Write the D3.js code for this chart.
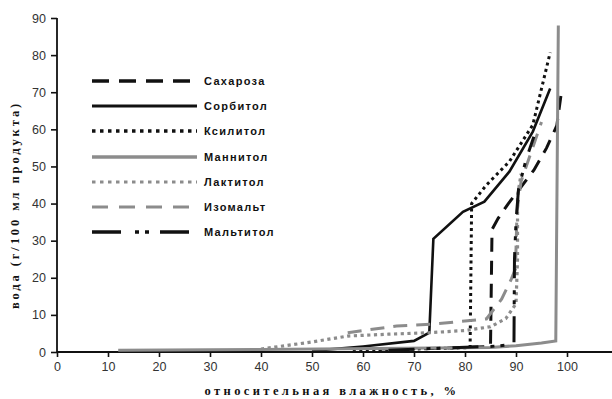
<!DOCTYPE html>
<html><head><meta charset="utf-8">
<script src="https://cdn.jsdelivr.net/npm/d3@7"></script>
<style>body{margin:0;background:#fff}svg{display:block}</style>
</head><body>
<svg id="c" width="612" height="399"></svg>
<script>
// ---- data ----
const seriesNames = ["Сахароза","Сорбитол","Ксилитол","Маннитол","Лактитол","Изомальт","Мальтитол"];
const sucrose  = [[63,0.8],[75,1.0],[85,1.5],[85.3,33],[86.5,36],[88.5,40],[93.5,49],[96,55],[98,61],[99,71]];
const sorbitol = [[50,0.3],[60,1.5],[70,3],[73,5.2],[73.8,30.5],[79.6,37.8],[83.8,40.5],[88.7,48.6],[93.3,59.4],[96.7,71]];
const xylitol  = [[58,0.3],[70,0.8],[81,1.2],[81.3,40],[84.2,45],[88.7,51.3],[93.3,61.2],[96.7,80.7]];
const mannitol = [[12,0.5],[40,0.7],[85,1.2],[90,1.7],[95,2.4],[97.8,3],[98.3,88]];
const lactitol = [[40,0.8],[50,2.7],[57,4.3],[65,4.8],[73,5.2],[80,5.8],[85,6.8],[88,9],[90,13],[90.3,25],[90.3,42],[91,48]];
const isomalt  = [[57,5.2],[66.6,7],[73.5,7.5],[84.2,8.9],[87.2,14.3],[89.1,19.7],[89.9,22.4],[90.2,38],[91,46],[93,54],[95,62]];
const maltitol = [[65,0.5],[75,1],[85,1.5],[89.6,2],[89.7,25],[90,35],[90.5,44],[92,52],[93.5,58]];
const xTicks = [0,10,20,30,40,50,60,70,80,90,100];
const yTicks = [0,10,20,30,40,50,60,70,80,90];
const xTitle = "относительная влажность, %";
const yTitle = "вода (г/100 мл продукта)";

// ---- styles ----
const styles = [
  {data: sucrose,  color:"#111", w:3,   dash:"14,9",  ldash:"17,10", lw:3.5},
  {data: sorbitol, color:"#111", w:2.6, dash:null,   ldash:null,    lw:3.2},
  {data: xylitol,  color:"#111", w:3,   dash:"3,3.5", ldash:"3.5,4.5", lw:3.5},
  {data: mannitol, color:"#8c8c8c", w:3, dash:null,  ldash:null,    lw:3.5},
  {data: lactitol, color:"#8c8c8c", w:3.2, dash:"3.2,3.5", ldash:"3.5,4.5", lw:3.2},
  {data: isomalt,  color:"#8c8c8c", w:3, dash:"14,9", ldash:"16,11", lw:3},
  {data: maltitol, color:"#111", w:3,   dash:"26,12,4,6,4,12", ldash:"29,14,4,6,4,11", lw:3.5}
];

const svg = d3.select("#c");
const x = d3.scaleLinear().domain([0,100]).range([57,567]);
const y = d3.scaleLinear().domain([0,90]).range([352,18]);

// axes
const gx = svg.append("g").attr("transform","translate(0,352)")
  .call(d3.axisBottom(x).tickValues(xTicks).tickSize(5).tickPadding(5));
const gy = svg.append("g").attr("transform","translate(57,0)")
  .call(d3.axisLeft(y).tickValues(yTicks).tickSize(6).tickPadding(5));
[gx,gy].forEach(g=>{
  g.select(".domain").remove();
  g.selectAll("line").attr("stroke","#111").attr("stroke-width",1.6);
  g.selectAll("text").attr("font-family","Liberation Sans, Arial, sans-serif")
    .attr("font-size",12.5).attr("fill","#333");
});
svg.append("line").attr("x1",x(0)).attr("x2",612).attr("y1",y(0)).attr("y2",y(0))
  .attr("stroke","#111").attr("stroke-width",1.8);
svg.append("line").attr("x1",x(0)).attr("x2",x(0)).attr("y1",y(0)).attr("y2",y(90))
  .attr("stroke","#111").attr("stroke-width",1.8);

// lines
const line = d3.line().x(d=>x(d[0])).y(d=>y(d[1]));
styles.forEach(s=>{
  svg.append("path").attr("d",line(s.data)).attr("fill","none")
    .attr("stroke",s.color).attr("stroke-width",s.w)
    .attr("stroke-dasharray",s.dash).attr("stroke-linejoin","miter");
});

// legend
const legY = [81,106,131,157,182,207,232];
seriesNames.forEach((n,i)=>{
  const s = styles[i];
  svg.append("line").attr("x1",92).attr("x2",197).attr("y1",legY[i]).attr("y2",legY[i])
    .attr("stroke",s.color).attr("stroke-width",s.lw).attr("stroke-dasharray",s.ldash);
  svg.append("text").attr("x",204).attr("y",legY[i]+4).text(n)
    .attr("font-family","Liberation Sans, Arial, sans-serif").attr("font-weight","bold")
    .attr("font-size",11).attr("letter-spacing",1.3).attr("fill","#111");
});

// titles
svg.append("text").attr("x",332).attr("y",395).attr("text-anchor","middle").text(xTitle)
  .attr("font-family","Liberation Serif, Times New Roman, serif").attr("font-weight","bold")
  .attr("font-size",12.5).attr("letter-spacing",3.4).attr("fill","#111");
svg.append("text").attr("transform","translate(19,205) rotate(-90)").attr("text-anchor","middle").text(yTitle)
  .attr("font-family","Liberation Serif, Times New Roman, serif").attr("font-weight","bold")
  .attr("font-size",12.5).attr("letter-spacing",2.9).attr("fill","#111");
</script>
</body></html>
